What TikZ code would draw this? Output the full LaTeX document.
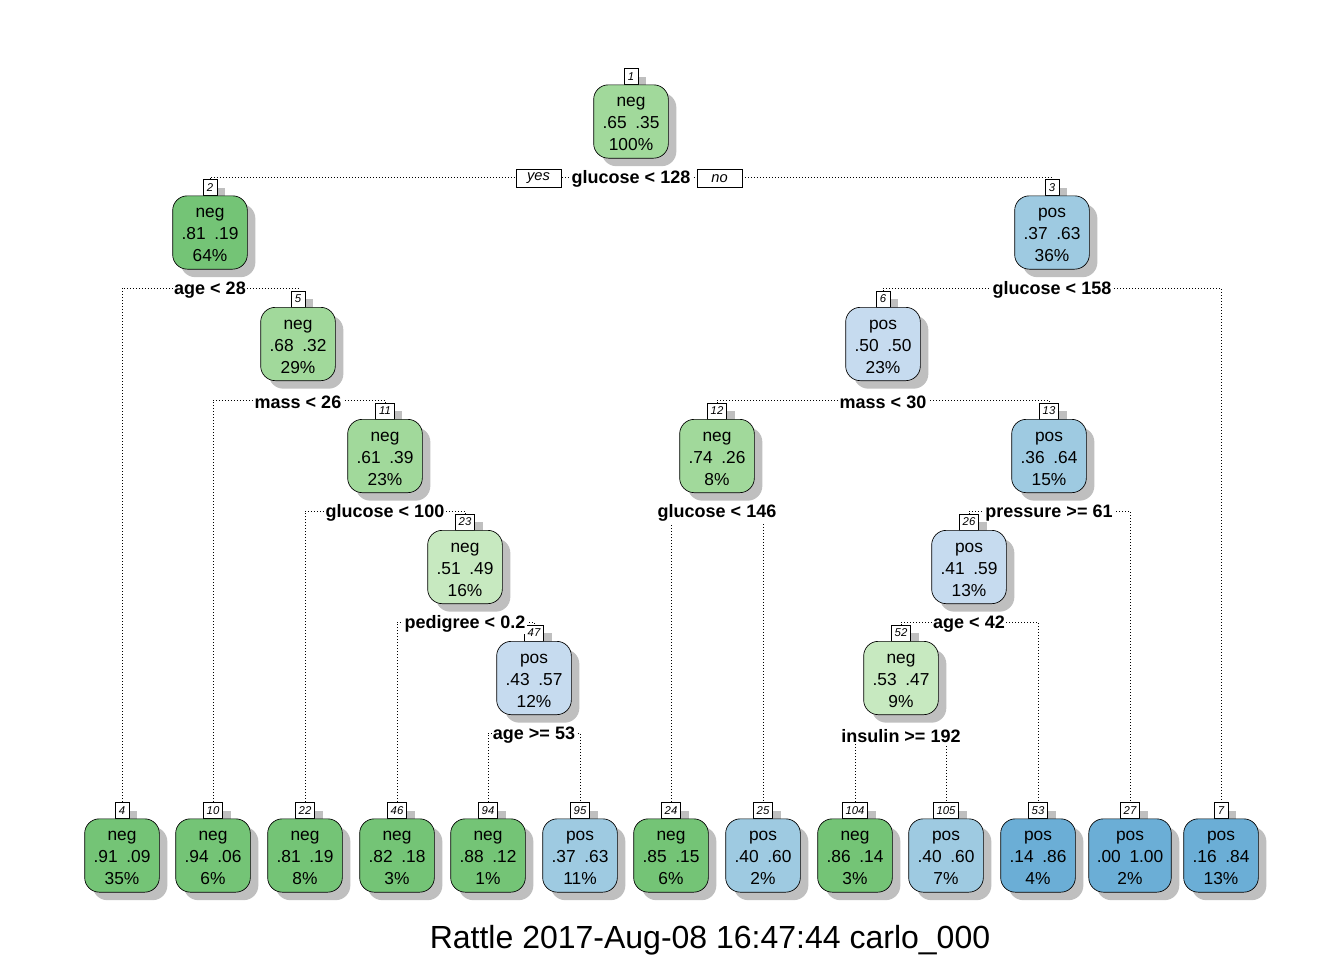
\documentclass[tikz,border=0pt]{standalone}
\usepackage{fontspec}
\setmainfont{Liberation Sans}
\usetikzlibrary{
  positioning,
  shadows,
  backgrounds
}
\definecolor{darkGreen}{RGB}{116,196,118}
\definecolor{midGreen}{RGB}{161,217,155}
\definecolor{paleGreen}{RGB}{199,233,192}
\definecolor{paleBlue}{RGB}{198,219,239}
\definecolor{midBlue}{RGB}{158,202,225}
\definecolor{darkBlue}{RGB}{107,174,214}
\newcommand{\treeNode}[8]{\node[numBox, above=27.5pt] (num#1) at #2 {#3};
  \node[treeBox, fill=#4] (box#1) at #2 {\raisebox{-2.25pt}[\height][\depth]{%
      \begin{tabular}{@{}c@{}}#5\\#6\hspace{0.5em}#7\\#8\end{tabular}}};}
\tikzset{
  treeBox/.style={
    rectangle,
    rounded corners=11pt,
    draw,
    line width=0.5pt,
    minimum width=56pt,
    minimum height=55pt,
    inner xsep=6pt,
    inner ysep=2pt,
    font=\fontsize{13}{16.5}\selectfont,
    drop shadow={shadow xshift=6pt, shadow yshift=-6pt, fill=black!25, opacity=1}
  }
}
\tikzset{
  numBox/.style={
    rectangle,
    draw,
    fill=white,
    line width=0.5pt,
    minimum width=10.5pt,
    minimum height=12pt,
    inner xsep=2.5pt,
    inner ysep=0pt,
    font=\fontsize{8.5}{10}\selectfont\itshape,
    drop shadow={shadow xshift=6pt, shadow yshift=-6pt, fill=black!25, opacity=1}
  }
}
\tikzset{
  splitLabel/.style={
    fill=white,
    inner sep=1pt,
    yshift=-1.5pt,
    font=\fontsize{13.5}{16}\selectfont\bfseries
  },
  splitLine/.style={
    line width=0.6pt,
    dash pattern=on 0.75pt off 1.5pt
  },
  yesNo/.style={
    draw,
    fill=white,
    line width=0.5pt,
    minimum width=34pt,
    minimum height=14pt,
    inner sep=1pt,
    yshift=-1pt,
    font=\fontsize{11}{13}\selectfont\itshape
  }
}
\begin{document}
\begin{tikzpicture}[x=0.75pt, y=-0.75pt]
    \useasboundingbox (0,0) rectangle (1344,960);

    % inner nodes
    \treeNode{1}{(631,121.5)}{1}{midGreen}{neg}{.65}{.35}{100\%}
    \treeNode{2}{(210,232.5)}{2}{darkGreen}{neg}{.81}{.19}{64\%}
    \treeNode{3}{(1052,232.5)}{3}{midBlue}{pos}{.37}{.63}{36\%}
    \treeNode{5}{(298,344)}{5}{midGreen}{neg}{.68}{.32}{29\%}
    \treeNode{6}{(883,344)}{6}{paleBlue}{pos}{.50}{.50}{23\%}
    \treeNode{11}{(385,456)}{11}{midGreen}{neg}{.61}{.39}{23\%}
    \treeNode{12}{(717,456)}{12}{midGreen}{neg}{.74}{.26}{8\%}
    \treeNode{13}{(1049,456)}{13}{midBlue}{pos}{.36}{.64}{15\%}
    \treeNode{23}{(465,567)}{23}{paleGreen}{neg}{.51}{.49}{16\%}
    \treeNode{26}{(969,567)}{26}{paleBlue}{pos}{.41}{.59}{13\%}
    \treeNode{47}{(534,678)}{47}{paleBlue}{pos}{.43}{.57}{12\%}
    \treeNode{52}{(901,678)}{52}{paleGreen}{neg}{.53}{.47}{9\%}

    % leaves
    \treeNode{4}{(122,855.5)}{4}{darkGreen}{neg}{.91}{.09}{35\%}
    \treeNode{10}{(213,855.5)}{10}{darkGreen}{neg}{.94}{.06}{6\%}
    \treeNode{22}{(305,855.5)}{22}{darkGreen}{neg}{.81}{.19}{8\%}
    \treeNode{46}{(397,855.5)}{46}{darkGreen}{neg}{.82}{.18}{3\%}
    \treeNode{94}{(488,855.5)}{94}{darkGreen}{neg}{.88}{.12}{1\%}
    \treeNode{95}{(580,855.5)}{95}{midBlue}{pos}{.37}{.63}{11\%}
    \treeNode{24}{(671,855.5)}{24}{darkGreen}{neg}{.85}{.15}{6\%}
    \treeNode{25}{(763,855.5)}{25}{midBlue}{pos}{.40}{.60}{2\%}
    \treeNode{104}{(855,855.5)}{104}{darkGreen}{neg}{.86}{.14}{3\%}
    \treeNode{105}{(946,855.5)}{105}{midBlue}{pos}{.40}{.60}{7\%}
    \treeNode{53}{(1038,855.5)}{53}{darkBlue}{pos}{.14}{.86}{4\%}
    \treeNode{27}{(1130,855.5)}{27}{darkBlue}{pos}{.00}{1.00}{2\%}
    \treeNode{7}{(1221,855.5)}{7}{darkBlue}{pos}{.16}{.84}{13\%}

    % split points
    \coordinate (s1) at (631,177);
    \coordinate (s2) at (210,288);
    \coordinate (s3) at (1052,288);
    \coordinate (s5) at (298,400);
    \coordinate (s6) at (883,400);
    \coordinate (s11) at (385,511);
    \coordinate (s12) at (717,511);
    \coordinate (s13) at (1049,511);
    \coordinate (s23) at (465,622);
    \coordinate (s26) at (969,622);
    \coordinate (s47) at (534,733);
    \coordinate (s52) at (901,734);

    \begin{pgfonlayer}{background}
      \foreach \lkid/\rkid/\at in {2/3/1, 4/5/2, 6/7/3, 10/11/5, 12/13/6,
        22/23/11, 24/25/12, 26/27/13, 46/47/23, 52/53/26, 94/95/47,
        104/105/52}{
        \draw[splitLine]
        (num\lkid.north) -- (num\lkid.north |- s\at)
        -- (num\rkid.north |- s\at) -- (num\rkid.north);
      }
    \end{pgfonlayer}

    \node[splitLabel] (t1) at (s1) {glucose < 128};
    \node[splitLabel] (t2) at (s2) {age < 28};
    \node[splitLabel] (t3) at (s3) {glucose < 158};
    \node[splitLabel] (t5) at (s5) {mass < 26};
    \node[splitLabel] (t6) at (s6) {mass < 30};
    \node[splitLabel] (t11) at (s11) {glucose < 100};
    \node[splitLabel] (t12) at (s12) {glucose < 146};
    \node[splitLabel] (t13) at (s13) {pressure >= 61};
    \node[splitLabel] (t23) at (s23) {pedigree < 0.2};
    \node[splitLabel] (t26) at (s26) {age < 42};
    \node[splitLabel] (t47) at (s47) {age >= 53};
    \node[splitLabel] (t52) at (s52) {insulin >= 192};

    \node[yesNo] (yes) at (538.5,177) {yes};
    \node[yesNo] (no) at (719.5,177) {no};

    \node[font=\fontsize{24}{28}\selectfont] (stamp) at (710,940)
      {Rattle 2017-Aug-08 16:47:44 carlo\_000};
\end{tikzpicture}
\end{document}
